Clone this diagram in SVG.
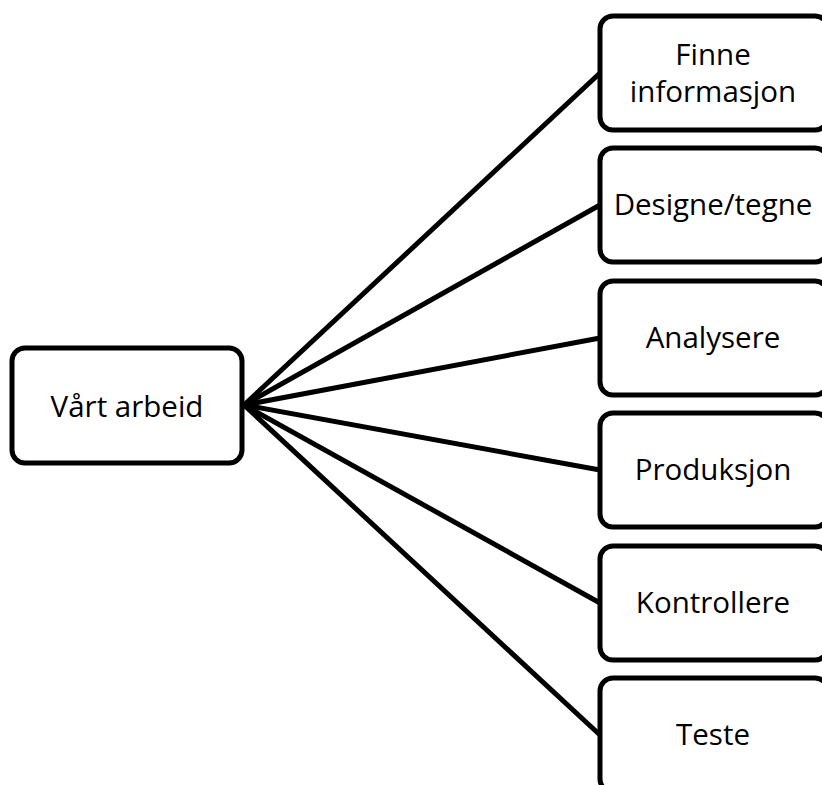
<svg xmlns="http://www.w3.org/2000/svg" width="822" height="785" viewBox="0 0 822 785">
<style>
.box{fill:#fff;stroke:#000;stroke-width:5}
.lbl{font-family:"Open Sans","Liberation Sans",sans-serif;font-size:29.5px;fill:#000;text-anchor:middle}
.conn line{stroke:#000;stroke-width:5}
</style>
<rect width="822" height="785" fill="#fff"/>
<g id="connectors" class="conn">
<line x1="244" y1="405" x2="600" y2="73"/>
<line x1="244" y1="405" x2="600" y2="205"/>
<line x1="244" y1="405" x2="600" y2="338"/>
<line x1="244" y1="405" x2="600" y2="470"/>
<line x1="244" y1="405" x2="600" y2="603"/>
<line x1="244" y1="405" x2="600" y2="735"/>
</g>
<g id="n0"><rect class="box" x="12" y="348" width="230" height="115" rx="13"/><text class="lbl" x="127" y="417">Vårt arbeid</text></g>
<g id="n1"><rect class="box" x="600" y="16" width="228" height="114" rx="13"/><text class="lbl" x="713" y="65">Finne</text><text class="lbl" x="713" y="102">informasjon</text></g>
<g id="n2"><rect class="box" x="600" y="148" width="228" height="114" rx="13"/><text class="lbl" x="713" y="215">Designe/tegne</text></g>
<g id="n3"><rect class="box" x="600" y="281" width="228" height="114" rx="13"/><text class="lbl" x="713" y="348">Analysere</text></g>
<g id="n4"><rect class="box" x="600" y="413" width="228" height="114" rx="13"/><text class="lbl" x="713" y="480">Produksjon</text></g>
<g id="n5"><rect class="box" x="600" y="546" width="228" height="114" rx="13"/><text class="lbl" x="713" y="613">Kontrollere</text></g>
<g id="n6"><rect class="box" x="600" y="678" width="228" height="114" rx="13"/><text class="lbl" x="713" y="745">Teste</text></g>
</svg>
